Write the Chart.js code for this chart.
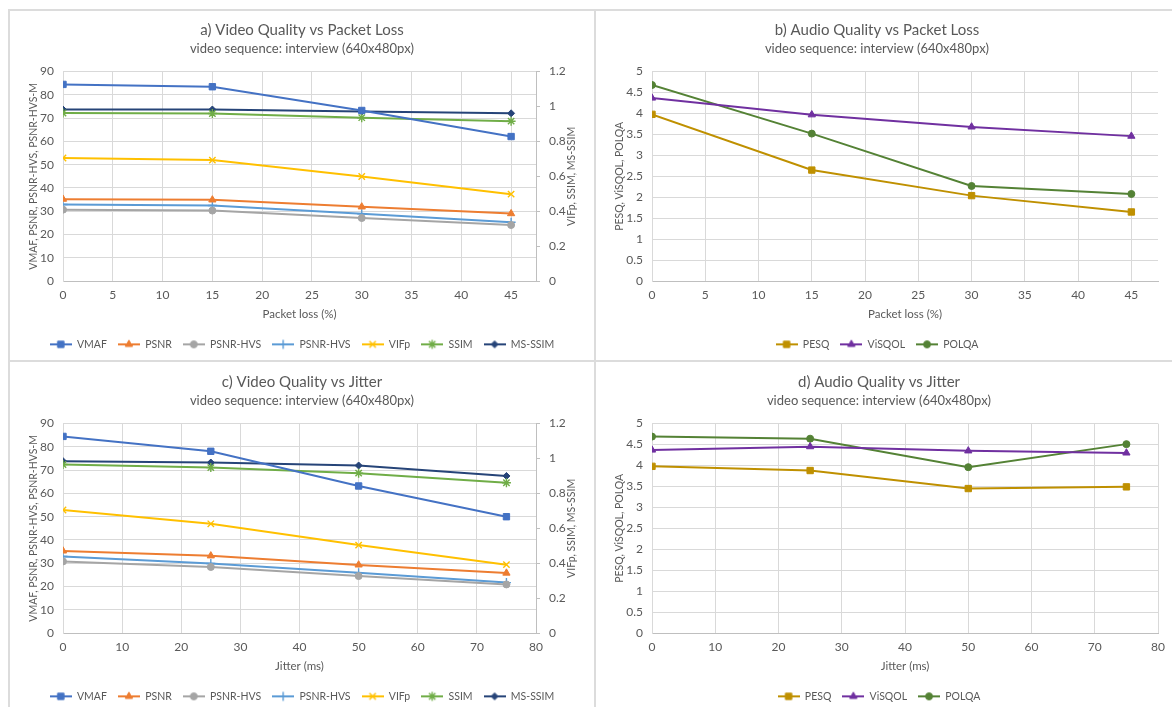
<!DOCTYPE html>
<html>
<head>
<meta charset="utf-8">
<title>Quality vs Packet Loss / Jitter</title>
<script src="https://cdn.jsdelivr.net/npm/chart.js@4.4.1/dist/chart.umd.min.js"></script>
<style>
  body { margin: 0; width: 1172px; height: 707px; overflow: hidden; position: relative; background: #fff; }
  .panel { position: absolute; width: 584px; height: 350px; }
  #pa { left: 10px; top: 11px; }
  #pb { left: 596px; top: 11px; width: 576px; }
  #pc { left: 10px; top: 363px; }
  #pd { left: 596px; top: 363px; width: 576px; }
  .rule { position: absolute; background: #dcdcdc; }
</style>
</head>
<body>
<div class="panel" id="pa"><canvas id="chartA"></canvas></div>
<div class="panel" id="pb"><canvas id="chartB"></canvas></div>
<div class="panel" id="pc"><canvas id="chartC"></canvas></div>
<div class="panel" id="pd"><canvas id="chartD"></canvas></div>
<div class="rule" style="left:8px;top:9px;width:1164px;height:2px"></div>
<div class="rule" style="left:8px;top:9px;width:2px;height:698px"></div>
<div class="rule" style="left:594px;top:9px;width:2px;height:698px"></div>
<div class="rule" style="left:8px;top:360px;width:1164px;height:2px"></div>
<script>
// x values
const lossX = [0, 15, 30, 45];
const jitterX = [0, 25, 50, 75];

// a) video quality vs packet loss
const lossVmaf = [84.5, 83.5, 73.3, 62.1];
const lossPsnr = [35.2, 34.9, 31.9, 29.0];
const lossPsnrHvs = [30.7, 30.3, 27.1, 24.1];
const lossPsnrHvsM = [32.9, 32.5, 28.9, 25.3];
const lossVifp = [0.705, 0.693, 0.599, 0.498];
const lossSsim = [0.963, 0.960, 0.936, 0.916];
const lossMsSsim = [0.983, 0.983, 0.971, 0.961];

// b) audio quality vs packet loss
const lossPesq = [3.98, 2.65, 2.04, 1.65];
const lossVisqol = [4.37, 3.97, 3.68, 3.46];
const lossPolqa = [4.68, 3.52, 2.27, 2.08];

// c) video quality vs jitter
const jitVmaf = [84.5, 78.1, 63.2, 50.0];
const jitPsnr = [35.3, 33.2, 29.3, 25.8];
const jitPsnrHvs = [30.8, 28.4, 24.5, 20.9];
const jitPsnrHvsM = [32.9, 29.9, 25.9, 21.7];
const jitVifp = [0.705, 0.626, 0.504, 0.392];
const jitSsim = [0.966, 0.948, 0.916, 0.861];
const jitMsSsim = [0.985, 0.977, 0.960, 0.900];

// d) audio quality vs jitter
const jitPesq = [3.98, 3.88, 3.45, 3.49];
const jitVisqol = [4.37, 4.45, 4.35, 4.30];
const jitPolqa = [4.69, 4.64, 3.96, 4.51];

const videoLabels = ['VMAF', 'PSNR', 'PSNR-HVS', 'PSNR-HVS', 'VIFp', 'SSIM', 'MS-SSIM'];
const audioLabels = ['PESQ', 'ViSQOL', 'POLQA'];

const FONT = 'Lato, "Open Sans", sans-serif';
const TEXT = '#595959';
const GRID = '#d9d9d9';
const AXIS = '#bfbfbf';

// look of each series (kept apart from the values)
const videoLook = [
  { color: '#4472C4', shape: 'rect', r: 4.5, axis: 'y' },
  { color: '#ED7D31', shape: 'triangle', r: 4.2, axis: 'y' },
  { color: '#A5A5A5', shape: 'circle', r: 3.5, axis: 'y' },
  { color: '#5B9BD5', shape: 'cross', r: 4.5, axis: 'y' },
  { color: '#FFC000', shape: 'crossRot', r: 4.5, axis: 'y1' },
  { color: '#70AD47', shape: 'star', r: 4.5, axis: 'y1' },
  { color: '#264478', shape: 'rectRot', r: 3.5, axis: 'y1' }
];
const audioLook = [
  { color: '#BF9000', shape: 'rect', r: 4.5 },
  { color: '#7030A0', shape: 'triangle', r: 4.2 },
  { color: '#548235', shape: 'circle', r: 3.5 }
];

const pts = (xs, ys) => xs.map((x, i) => ({ x: x, y: ys[i] }));

function buildSets(xs, series, labels, looks) {
  return series.map((ys, i) => {
    const lk = looks[i];
    const thin = ['cross', 'crossRot', 'star'].includes(lk.shape);
    return {
      label: labels[i],
      data: pts(xs, ys),
      yAxisID: lk.axis || 'y',
      showLine: true,
      borderColor: lk.color,
      backgroundColor: lk.color,
      borderWidth: 2,
      pointStyle: lk.shape,
      pointRadius: lk.r,
      pointHoverRadius: lk.r,
      pointBackgroundColor: lk.color,
      pointBorderColor: lk.color,
      pointBorderWidth: thin ? 1.4 : 1
    };
  });
}

// legend swatch: short line with the marker in its middle
function swatch(ds) {
  const c = document.createElement('canvas');
  c.width = 22; c.height = 12;
  const g = c.getContext('2d');
  g.strokeStyle = ds.borderColor;
  g.lineWidth = 2;
  g.beginPath(); g.moveTo(0, 6); g.lineTo(22, 6); g.stroke();
  g.fillStyle = ds.pointBackgroundColor;
  g.strokeStyle = ds.pointBorderColor;
  g.lineWidth = ds.pointBorderWidth;
  Chart.helpers.drawPoint(g, { pointStyle: ds.pointStyle, radius: ds.pointRadius, borderWidth: ds.pointBorderWidth, rotation: 0 }, 11, 6);
  return c;
}

function legendLabels(chart) {
  const items = Chart.defaults.plugins.legend.labels.generateLabels(chart);
  items.forEach(it => { it.pointStyle = swatch(chart.data.datasets[it.datasetIndex]); });
  return items;
}

// right-hand axis title, read bottom to top like the left one
const sideTitle = {
  id: 'sideTitle',
  afterDraw(chart, args, opts) {
    if (!opts.text) return;
    const s = chart.scales.y1;
    const ctx = chart.ctx;
    ctx.save();
    ctx.translate(s.right - 22, (chart.chartArea.top + chart.chartArea.bottom) / 2);
    ctx.rotate(-Math.PI / 2);
    ctx.font = '10.5px ' + FONT;
    ctx.fillStyle = TEXT;
    ctx.textAlign = 'center';
    ctx.textBaseline = 'middle';
    ctx.fillText(opts.text, 0, 0);
    ctx.restore();
  }
};

const tickFont = { family: FONT, size: 12 };
const axisFont = { family: FONT, size: 10.5 };
const trimNum = v => String(+v.toFixed(2));

function xScale(max, step, title) {
  return {
    type: 'linear', min: 0, max: max,
    ticks: { stepSize: step, includeBounds: false, padding: 7, color: TEXT, font: tickFont },
    grid: { color: GRID, drawTicks: false },
    border: { color: AXIS },
    title: { display: true, text: title, color: TEXT, font: { family: FONT, size: 11.5 }, padding: { top: 0, bottom: 7 } },
    afterFit: s => { s.height = 47; }
  };
}

function yScale(max, step, title, width) {
  return {
    min: 0, max: max,
    ticks: { stepSize: step, padding: 9, color: TEXT, font: tickFont, callback: trimNum },
    grid: { color: GRID, drawTicks: false },
    border: { color: GRID },
    title: { display: true, text: title, color: TEXT, font: axisFont, padding: { top: 17, bottom: 0 } },
    afterFit: s => { s.width = width; }
  };
}

function commonOptions(title, padRight) {
  return {
    responsive: true,
    maintainAspectRatio: false,
    animation: false,
    layout: { padding: { left: 0, right: padRight, top: 0, bottom: 1.4 } },
    plugins: {
      title: { display: true, text: title, color: TEXT, font: { family: FONT, size: 15, weight: 'normal' }, padding: { top: 10, bottom: 0 } },
      subtitle: { display: true, text: 'video sequence: interview (640x480px)', color: TEXT, font: { family: FONT, size: 13 }, padding: { top: 2, bottom: 15 } },
      legend: {
        position: 'bottom',
        labels: { usePointStyle: true, pointStyleWidth: 22, padding: 11, color: TEXT, font: axisFont, generateLabels: legendLabels }
      },
      tooltip: { enabled: false }
    }
  };
}

function videoChart(id, title, xs, series, xMax, xStep, xTitle) {
  const opts = commonOptions(title, 0);
  opts.plugins.sideTitle = { text: 'VIFp, SSIM, MS-SSIM' };
  opts.scales = {
    x: xScale(xMax, xStep, xTitle),
    y: yScale(90, 10, 'VMAF, PSNR, PSNR-HVS, PSNR-HVS-M', 53),
    y1: {
      position: 'right', min: 0, max: 1.2,
      ticks: { stepSize: 0.2, padding: 9, color: TEXT, font: tickFont, callback: trimNum },
      grid: { drawOnChartArea: false, drawTicks: true, tickLength: 4, color: AXIS },
      border: { color: AXIS },
      afterFit: s => { s.width = 58; }
    }
  };
  new Chart(document.getElementById(id), {
    type: 'scatter',
    data: { datasets: buildSets(xs, series, videoLabels, videoLook) },
    options: opts,
    plugins: [sideTitle]
  });
}

function audioChart(id, title, xs, series, xMax, xStep, xTitle, padRight) {
  const opts = commonOptions(title, padRight);
  opts.scales = {
    x: xScale(xMax, xStep, xTitle),
    y: yScale(5, 0.5, 'PESQ, ViSQOL, POLQA', 56)
  };
  new Chart(document.getElementById(id), {
    type: 'scatter',
    data: { datasets: buildSets(xs, series, audioLabels, audioLook) },
    options: opts
  });
}

videoChart('chartA', 'a) Video Quality vs Packet Loss', lossX,
  [lossVmaf, lossPsnr, lossPsnrHvs, lossPsnrHvsM, lossVifp, lossSsim, lossMsSsim], 47.5, 5, 'Packet loss (%)');
audioChart('chartB', 'b) Audio Quality vs Packet Loss', lossX,
  [lossPesq, lossVisqol, lossPolqa], 47.5, 5, 'Packet loss (%)', 14);
videoChart('chartC', 'c) Video Quality vs Jitter', jitterX,
  [jitVmaf, jitPsnr, jitPsnrHvs, jitPsnrHvsM, jitVifp, jitSsim, jitMsSsim], 80, 10, 'Jitter (ms)');
audioChart('chartD', 'd) Audio Quality vs Jitter', jitterX,
  [jitPesq, jitVisqol, jitPolqa], 80, 10, 'Jitter (ms)', 10);
</script>
</body>
</html>
